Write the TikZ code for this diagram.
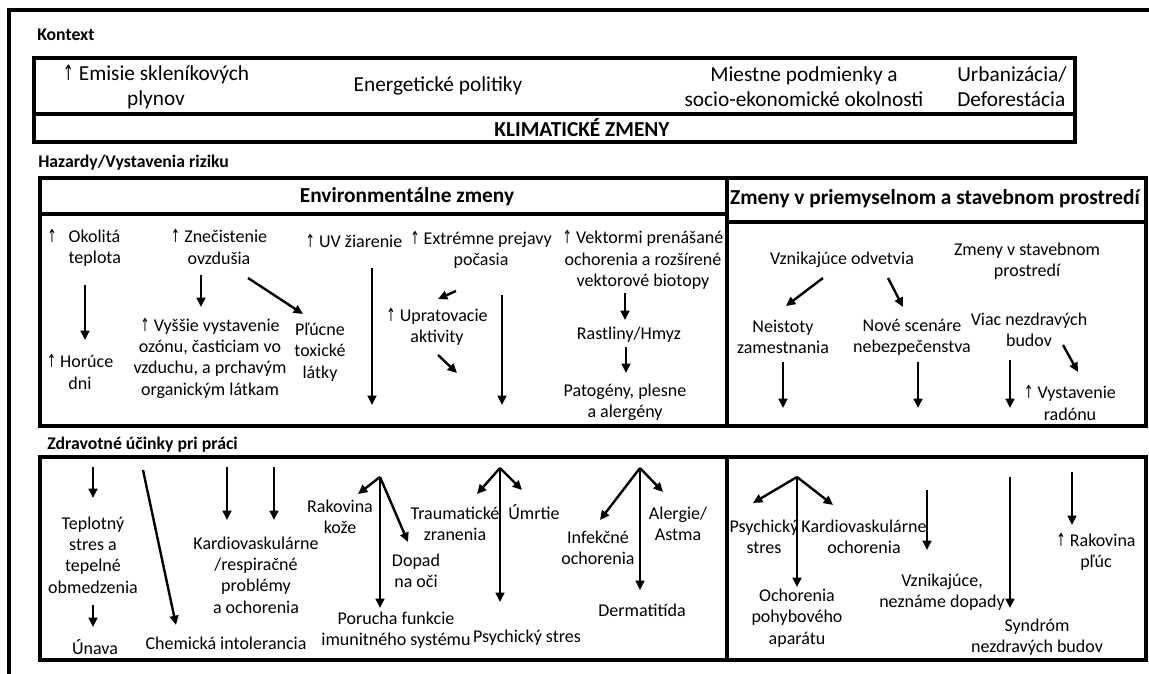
\documentclass[tikz,border=0pt]{standalone}
\usepackage{fontspec}
\setmainfont{Carlito}
\newfontfamily\symf{DejaVu Sans}
\usetikzlibrary{arrows.meta}
% thin upward arrow used in front of several labels
\newcommand\up{\scalebox{0.62}[1]{\symf ↑}}
\begin{document}
\begin{tikzpicture}[x=0.75pt,y=-0.75pt,
  frame/.style={line width=2.5pt},
  t/.style={align=center,inner sep=0pt,font=\fontsize{13.5}{16}\selectfont},
  tc/.style={align=center,inner sep=0pt,font=\fontsize{16}{18.5}\selectfont},
  hd/.style={inner sep=0pt,font=\fontsize{16}{18}\selectfont\bfseries},
  sec/.style={inner sep=0pt,anchor=west,font=\fontsize{13.3}{16}\selectfont\bfseries},
  arr/.style={line width=1.8pt,-{Triangle[length=7pt,width=6.5pt]}}]
\useasboundingbox (0,0) rectangle (1149,674);

% outer frame (open to the right and bottom)
\draw[frame] (9,674) -- (9,10) -- (1149,10);

% ---------------- Kontext ----------------
\node[sec] (kontext) at (37,35) {Kontext};
\draw[frame] (34,58) rectangle (1075,142);
\draw[frame] (34,114) -- (1075,114);
\node[tc] (emis) at (156,87) {\up\ Emisie skleníkových\\plynov};
\node[tc] (ener) at (438,86) {Energetické politiky};
\node[tc] (miest) at (804,87) {Miestne podmienky a\\socio-ekonomické okolnosti};
\node[tc,align=left,anchor=west] (urban) at (957,87) {Urbanizácia/\\Deforestácia};
\node[inner sep=0pt,font=\fontsize{16}{19}\selectfont\bfseries] (klim) at (582,128) {KLIMATICKÉ ZMENY};

% ---------------- Hazardy ----------------
\node[sec] (hazard) at (38,163) {Hazardy/Vystavenia riziku};
\draw[frame] (40,178) rectangle (1146,426);
\draw[frame] (727,178) -- (727,426);
\draw[frame] (40,214) -- (727,214);
\draw[frame] (727,222) -- (1146,222);
\node[hd] (envh) at (407,197) {Environmentálne zmeny};
\node[hd] (indh) at (935,199) {Zmeny v priemyselnom a stavebnom prostredí};

\node[t,anchor=west,align=left] (okol) at (47,248) {\up\hspace{9pt}Okolitá\\\phantom{\up}\hspace{9pt}teplota};
\node[t] (horuce) at (80,372) {\up\ Horúce\\dni};
\node[t] (znec) at (219,247) {\up\ Znečistenie\\ovzdušia};
\node[t] (vyss) at (210,358) {\up\ Vyššie vystavenie\\ozónu, časticiam vo\\vzduchu, a prchavým\\organickým látkam};
\node[t] (pluc) at (320,352) {Pľúcne\\toxické\\látky};
\node[t] (uv) at (354,241) {\up\ UV žiarenie};
\node[t] (extr) at (481,250) {\up\ Extrémne prejavy\\počasia};
\node[t] (uprat) at (437,327) {\up\ Upratovacie\\aktivity};
\node[t] (vekt) at (643,260) {\up\ Vektormi prenášané\\ochorenia a rozšírené\\vektorové biotopy};
\node[t] (rast) at (629,335) {Rastliny/Hmyz};
\node[t] (patog) at (625,402) {Patogény, plesne\\a alergény};
\node[t] (vznik) at (842,260) {Vznikajúce odvetvia};
\node[t] (neist) at (783,337) {Neistoty\\zamestnania};
\node[t] (nove) at (912,337) {Nové scenáre\\nebezpečenstva};
\node[t] (zmst) at (1027,261) {Zmeny v stavebnom\\prostredí};
\node[t] (viac) at (1029,330) {Viac nezdravých\\budov};
\node[t] (radon) at (1070,403) {\up\ Vystavenie\\radónu};

% arrow end points (hazards)
\coordinate (h1a) at (85,285);   \coordinate (h1b) at (85,340);
\coordinate (h2a) at (201,275);  \coordinate (h2b) at (201,307);
\coordinate (h3a) at (248,278);  \coordinate (h3b) at (303,314);
\coordinate (h4a) at (372,268);  \coordinate (h4b) at (372,405);
\coordinate (h5a) at (456,291);  \coordinate (h5b) at (438,299);
\coordinate (h6a) at (438,355);  \coordinate (h6b) at (457,373);
\coordinate (h7a) at (502,295);  \coordinate (h7b) at (502,405);
\coordinate (h8a) at (625,293);  \coordinate (h8b) at (625,320);
\coordinate (h9a) at (626,347);  \coordinate (h9b) at (626,373);
\coordinate (i1a) at (823,278);  \coordinate (i1b) at (786,306);
\coordinate (i2a) at (888,278);  \coordinate (i2b) at (903,307);
\coordinate (i3a) at (783,362);  \coordinate (i3b) at (783,408);
\coordinate (i4a) at (918,362);  \coordinate (i4b) at (918,408);
\coordinate (i5a) at (1010,360); \coordinate (i5b) at (1010,408);
\coordinate (i6a) at (1063,345); \coordinate (i6b) at (1078,372);
\foreach \p in {h1,h2,h3,h4,h5,h6,h7,h8,h9,i1,i2,i3,i4,i5,i6}
  \draw[arr] (\p a) -- (\p b);

% ---------------- Zdravotné účinky ----------------
\node[sec] (zdrav) at (47,445) {Zdravotné účinky pri práci};
\draw[frame] (40,457) rectangle (1146,660);
\draw[frame] (727,457) -- (727,660);

\node[t] (teplot) at (93,555) {Teplotný\\stres a\\tepelné\\obmedzenia};
\node[t] (unava) at (95,647) {Únava};
\node[t] (chem) at (226,643) {Chemická intolerancia};
\node[t] (kard) at (256,575) {Kardiovaskulárne\\/respiračné\\problémy\\a ochorenia};
\node[t] (rakov) at (340,517) {Rakovina\\kože};
\node[t] (dopad) at (416,571) {Dopad\\na oči};
\node[t] (porucha) at (396,630) {Porucha funkcie\\imunitného systému};
\node[t] (traum) at (455,524) {Traumatické\\zranenia};
\node[t] (umrt) at (534,512) {Úmrtie};
\node[t] (psych1) at (527,638) {Psychický stres};
\node[t] (infek) at (598,548) {Infekčné\\ochorenia};
\node[t] (alerg) at (678,524) {Alergie/\\Astma};
\node[t] (derm) at (642,610) {Dermatitída};
\node[t] (psych2) at (764,537) {Psychický\\stres};
\node[t] (kard2) at (864,537) {Kardiovaskulárne\\ochorenia};
\node[t] (ochor) at (797,618) {Ochorenia\\pohybového\\aparátu};
\node[t] (vzn2) at (942,592) {Vznikajúce,\\neznáme dopady};
\node[t] (syndr) at (1037,637) {Syndróm\\nezdravých budov};
\node[t] (rakpl) at (1096,552) {\up\ Rakovina\\pľúc};

% arrow end points (health effects)
\coordinate (e1a) at (93,467);   \coordinate (e1b) at (93,498);
\coordinate (e2a) at (93,605);   \coordinate (e2b) at (93,627);
\coordinate (e3a) at (143,470);  \coordinate (e3b) at (176,625);
\coordinate (e4a) at (227,467);  \coordinate (e4b) at (227,520);
\coordinate (e5a) at (274,467);  \coordinate (e5b) at (274,520);
\coordinate (e6a) at (927,490);  \coordinate (e6b) at (927,550);
\coordinate (e7a) at (1010,477); \coordinate (e7b) at (1010,608);
\coordinate (e8a) at (1072,472); \coordinate (e8b) at (1072,525);
\foreach \p in {e1,e2,e3,e4,e5,e6,e7,e8}
  \draw[arr] (\p a) -- (\p b);

% forks
\coordinate (f1) at (380,477);
\coordinate (f1l) at (358,494); \coordinate (f1d) at (380,608); \coordinate (f1r) at (408,542);
\coordinate (f2) at (500,468);
\coordinate (f2l) at (477,494); \coordinate (f2d) at (500,602); \coordinate (f2r) at (522,490);
\coordinate (f3) at (640,468);
\coordinate (f3l) at (600,520); \coordinate (f3d) at (640,590); \coordinate (f3r) at (663,492);
\coordinate (f4) at (797,477);
\coordinate (f4l) at (753,503); \coordinate (f4d) at (797,587); \coordinate (f4r) at (833,505);
\foreach \f in {f1,f2,f3,f4}
  \foreach \s in {l,d,r}
    \draw[arr] (\f) -- (\f\s);
\end{tikzpicture}
\end{document}
